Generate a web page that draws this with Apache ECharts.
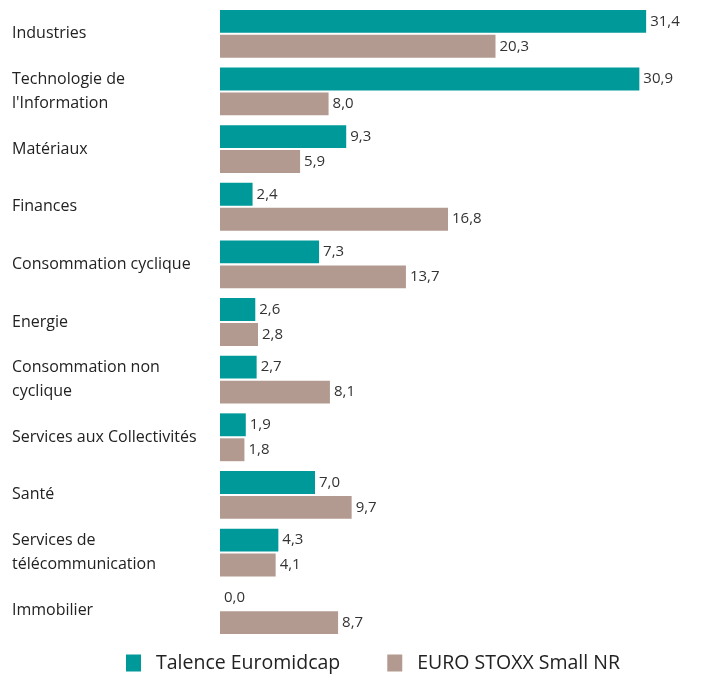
<!DOCTYPE html>
<html><head><meta charset="utf-8">
<script src="https://cdn.jsdelivr.net/npm/echarts@6/dist/echarts.min.js"></script>
<style>html,body{margin:0;padding:0;background:#fff}#c{width:705px;height:674px}</style>
</head><body><div id="c"></div>
<script>
const categories = ["Industries","Technologie de\nl'Information","Matériaux","Finances","Consommation cyclique","Energie","Consommation non\ncyclique","Services aux Collectivités","Santé","Services de\ntélécommunication","Immobilier"];
const talence = [31.4,30.9,9.3,2.4,7.3,2.6,2.7,1.9,7.0,4.3,0.0];
const stoxx = [20.3,8.0,5.9,16.8,13.7,2.8,8.1,1.8,9.7,4.1,8.7];
const seriesNames = ["Talence Euromidcap","EURO STOXX Small NR"];

const chart = echarts.init(document.getElementById('c'));
const fmt = p => p.value.toFixed(1).replace('.', ',');
const lbl = {show:true, position:'right', distance:4, color:'#333', fontSize:15, fontFamily:'Open Sans', formatter:fmt};
chart.setOption({
  animation:false,
  textStyle:{fontFamily:'Open Sans'},
  grid:{left:220, right:10, top:5, bottom:35},
  legend:{top:648, left:121, itemWidth:15, itemHeight:17, itemGap:47, icon:'rect',
    textStyle:{fontSize:19.5, color:'#222', fontFamily:'Open Sans', padding:[0,0,0,10]}, data:seriesNames},
  xAxis:{type:'value', min:0, max:35, show:false},
  yAxis:{type:'category', inverse:true, data:categories,
    axisLine:{show:false}, axisTick:{show:false},
    axisLabel:{align:'left', margin:208, fontSize:16, color:'#222', lineHeight:24, padding:[0,0,15,0], fontFamily:'Open Sans'}},
  series:[
    {name:seriesNames[0], type:'bar', data:talence, itemStyle:{color:'#009999'}, barGap:'9%', barCategoryGap:'17%', label:lbl},
    {name:seriesNames[1], type:'bar', data:stoxx, itemStyle:{color:'#B39A90'}, label:lbl}
  ]
});
</script></body></html>
